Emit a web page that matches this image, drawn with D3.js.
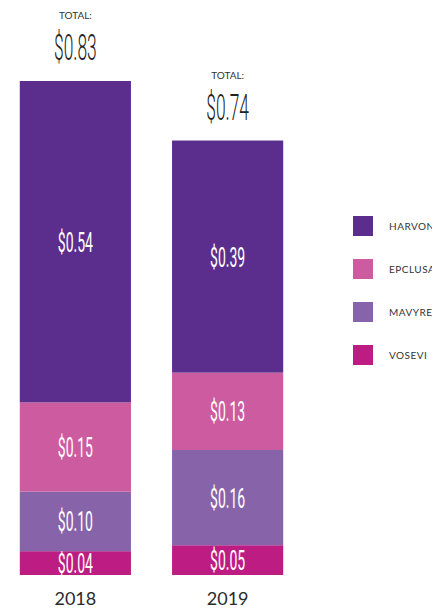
<!DOCTYPE html>
<html><head><meta charset="utf-8">
<script src="https://cdn.jsdelivr.net/npm/d3@7"></script>
<style>body{margin:0;background:#fff;overflow:hidden}svg{display:block}</style>
</head><body>
<script>
const years = ["2018", "2019"];
const drugs = ["HARVONI", "EPCLUSA", "MAVYRET", "VOSEVI"];
const harvoni = [0.54, 0.39];
const epclusa = [0.15, 0.13];
const mavyret = [0.10, 0.16];
const vosevi = [0.04, 0.05];
const totals = [0.83, 0.74];
const colors = ["#5b2e8e", "#cc5b9f", "#8764aa", "#bd1d83"];

const W = 432, H = 608;
const svg = d3.select("body").append("svg").attr("width", W).attr("height", H);

const rows = years.map((y, i) => ({year: y, HARVONI: harvoni[i], EPCLUSA: epclusa[i], MAVYRET: mavyret[i], VOSEVI: vosevi[i], total: totals[i]}));
// bottom-up: Vosevi at the base, Harvoni on top
const stack = d3.stack().keys(drugs.slice().reverse())(rows);

const x = d3.scaleBand().domain(years).range([0, 303]).paddingInner(0.27).paddingOuter(0.13);
const y = d3.scaleLinear().domain([0, 0.83]).range([575, 81]);
const color = d3.scaleOrdinal().domain(drugs).range(colors);
const fmt = v => "$" + d3.format(".2f")(v);

const condensed = "Roboto, 'DejaVu Sans', sans-serif";

const layers = svg.selectAll("g.layer").data(stack).join("g").attr("fill", d => color(d.key));
layers.selectAll("rect").data(d => d).join("rect")
  .attr("x", d => x(d.data.year)).attr("width", x.bandwidth())
  .attr("y", d => y(d[1])).attr("height", d => y(d[0]) - y(d[1]));

layers.selectAll("text").data(d => d.map(p => Object.assign({}, p, {key: d.key}))).join("text")
  .attr("transform", d => `translate(${x(d.data.year) + x.bandwidth() / 2},${(y(d[0]) + y(d[1])) / 2 + 10}) scale(0.5,1)`)
  .attr("text-anchor", "middle").attr("fill", "#fff")
  .style("font-family", condensed).style("font-size", "28px").style("font-weight", 400)
  .text(d => fmt(d.data[d.key]));

// totals
const barTop = d => y(d3.sum(drugs, k => d[k]));
svg.selectAll("text.tl").data(rows).join("text").attr("class", "tl")
  .attr("x", d => x(d.year) + x.bandwidth() / 2).attr("y", d => barTop(d) - 62)
  .attr("text-anchor", "middle").attr("fill", "#333")
  .style("font-family", "Lato, sans-serif").style("font-size", "10px")
  .text("TOTAL:");
svg.selectAll("text.tv").data(rows).join("text").attr("class", "tv")
  .attr("transform", d => `translate(${x(d.year) + x.bandwidth() / 2},${barTop(d) - 21}) scale(0.47,1)`)
  .attr("text-anchor", "middle").attr("fill", "#222")
  .style("font-family", condensed).style("font-size", "37px").style("font-weight", 300)
  .text(d => fmt(d.total));

// x axis labels
const xAxis = svg.append("g").attr("transform", "translate(0,575)")
  .call(d3.axisBottom(x).tickSize(0).tickPadding(15));
xAxis.select(".domain").remove();
xAxis.selectAll("text").attr("fill", "#2b2b2b").attr("dy", 0).attr("y", 30)
  .style("font-family", "Lato, sans-serif").style("font-size", "18px");

// legend
const ly = d3.scaleBand().domain(drugs).range([216, 388]).paddingInner(0);
const leg = svg.selectAll("g.leg").data(drugs).join("g").attr("class", "leg")
  .attr("transform", d => `translate(353,${ly(d)})`);
leg.append("rect").attr("width", 20).attr("height", 20).attr("fill", d => color(d));
leg.append("text").attr("x", 36).attr("y", 14).attr("fill", "#333")
  .style("font-family", "Lato, sans-serif").style("font-size", "10px").style("letter-spacing", "0.5px")
  .text(d => d);
</script>
</body></html>
